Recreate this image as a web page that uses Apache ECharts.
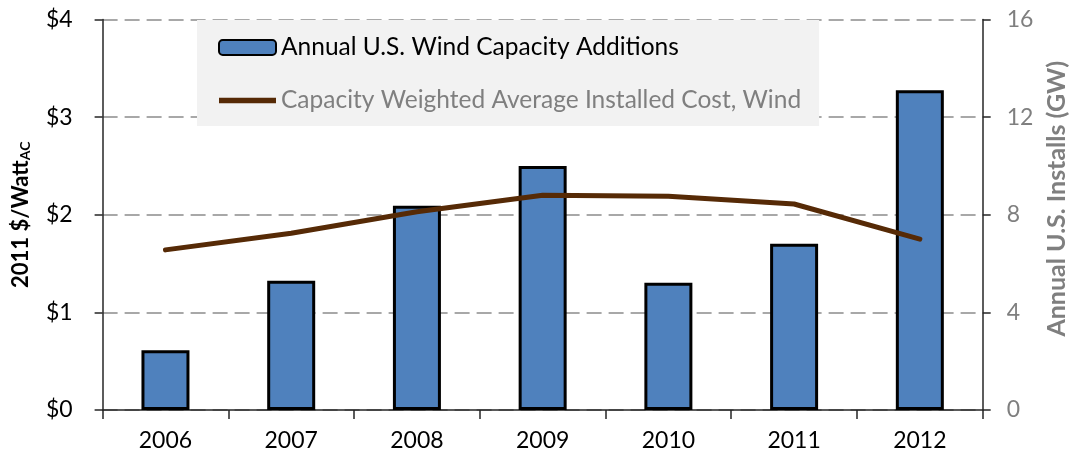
<!DOCTYPE html>
<html>
<head>
<meta charset="utf-8">
<script src="https://cdn.jsdelivr.net/npm/echarts@6/dist/echarts.min.js"></script>
<style>html,body{margin:0;padding:0;background:#fff}#c{width:1069px;height:459px}</style>
</head>
<body>
<div id="c"></div>
<script>
const years = ['2006','2007','2008','2009','2010','2011','2012'];
const capacityGW = [2.45, 5.30, 8.37, 10.0, 5.21, 6.81, 13.1];
const costPerWatt = [1.64, 1.81, 2.03, 2.20, 2.19, 2.11, 1.75];
const leftTicks = [0, 1, 2, 3, 4];
const rightTicks = [0, 4, 8, 12, 16];
const barName = 'Annual U.S. Wind Capacity Additions';
const lineName = 'Capacity Weighted Average Installed Cost, Wind';

const FONT = 'Lato';
const chart = echarts.init(document.getElementById('c'), null, {renderer: 'canvas'});
chart.setOption({
  animation: false,
  textStyle: {fontFamily: FONT},
  grid: {left: 102.6, right: 86.3, top: 19.5, bottom: 49, containLabel: false, outerBoundsMode: 'none'},
  legend: {
    orient: 'vertical', left: 197, top: 20,
    backgroundColor: '#f2f2f2',
    padding: [15, 18, 13, 21],
    itemGap: 28, itemWidth: 57, itemHeight: 15,
    textStyle: {fontFamily: FONT, fontSize: 24.5},
    data: [
      {name: barName, textStyle: {color: '#000'}},
      {name: lineName, icon: 'path://M0,0 L57,0 L57,5.5 L0,5.5 Z', textStyle: {color: '#7f7f7f'}}
    ]
  },
  xAxis: {
    type: 'category', data: years,
    axisLine: {lineStyle: {color: '#262626', width: 1.5}},
    axisTick: {show: true, length: 9, lineStyle: {color: '#262626', width: 1.5}},
    axisLabel: {color: '#000', fontSize: 23, margin: 19, fontFamily: FONT}
  },
  yAxis: [
    {
      type: 'value', min: 0, max: 4, interval: 1, position: 'left',
      axisLine: {show: true, lineStyle: {color: '#262626', width: 1.5}},
      axisTick: {show: true, length: 8, lineStyle: {color: '#262626', width: 1.5}},
      axisLabel: {color: '#000', fontSize: 23, margin: 30, fontFamily: FONT,
        formatter: v => leftTicks.includes(v) ? '$' + v : ''},
      splitLine: {show: true, lineStyle: {color: '#8c8c8c', width: 1.6, type: [15, 7]}},
      name: '{a|2011 $/Watt}{b|AC}', nameLocation: 'middle', nameGap: 70,
      nameTextStyle: {
        rich: {
          a: {fontSize: 22, fontWeight: 'bold', color: '#000', fontFamily: FONT},
          b: {fontSize: 14, fontWeight: 'bold', color: '#000', fontFamily: FONT, padding: [10, 0, 0, 0]}
        }
      }
    },
    {
      type: 'value', min: 0, max: 16, interval: 4, position: 'right',
      axisLine: {show: true, lineStyle: {color: '#262626', width: 1.5}},
      axisTick: {show: true, length: 8, lineStyle: {color: '#262626', width: 1.5}},
      axisLabel: {color: '#7f7f7f', fontSize: 23, margin: 24, fontFamily: FONT,
        formatter: v => rightTicks.includes(v) ? String(v) : ''},
      splitLine: {show: false},
      name: 'Annual U.S. Installs (GW)', nameLocation: 'middle', nameGap: 61,
      nameTextStyle: {color: '#7f7f7f', fontSize: 25, fontWeight: 'bold', fontFamily: FONT, padding: [0, 0, 0, 32]}
    }
  ],
  series: [
    {
      name: barName, type: 'bar', yAxisIndex: 1, data: capacityGW, barWidth: 48,
      itemStyle: {color: '#4f81bd', borderColor: '#000', borderWidth: 3}
    },
    {
      name: lineName, type: 'line', yAxisIndex: 0, data: costPerWatt,
      symbol: 'none', showSymbol: false,
      lineStyle: {color: '#562a06', width: 5, cap: 'round', join: 'round'},
      itemStyle: {color: '#562a06'}
    }
  ]
});
</script>
</body>
</html>
